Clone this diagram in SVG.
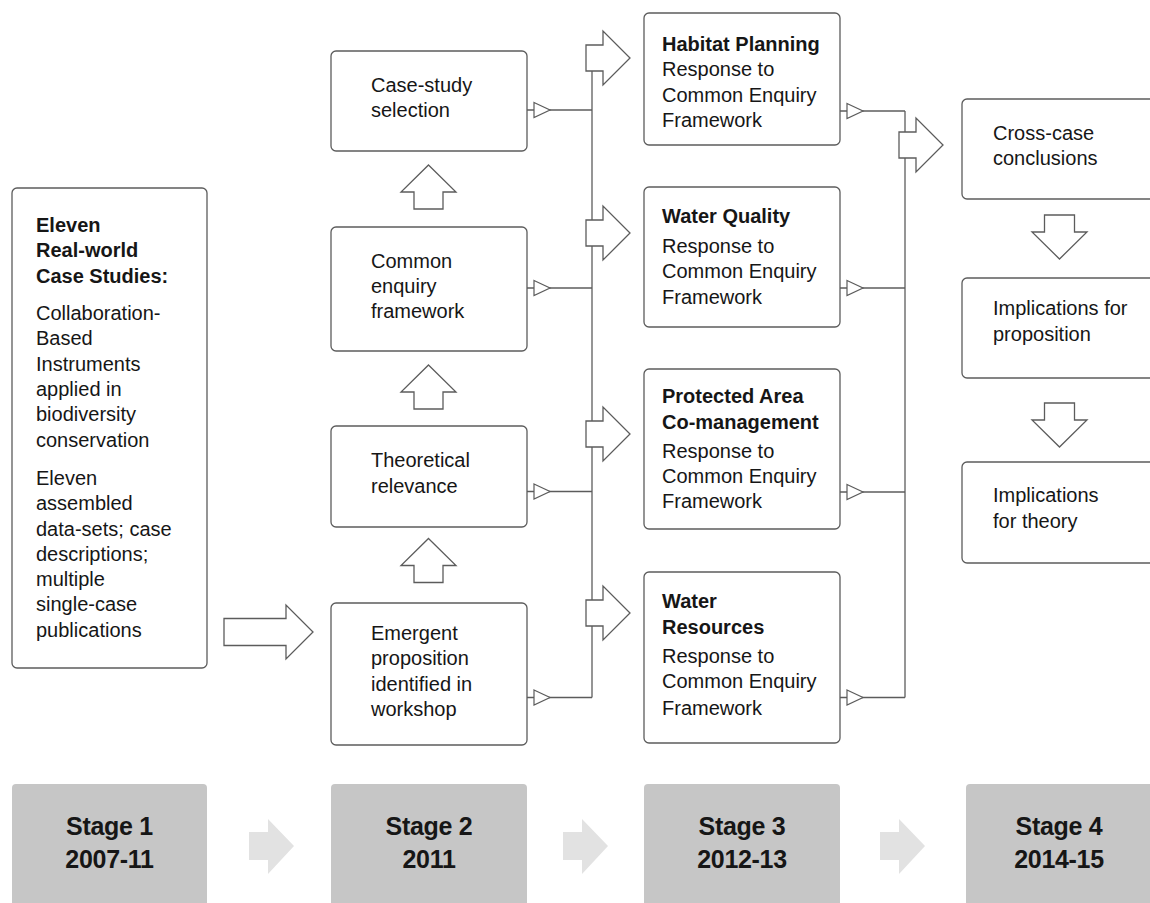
<svg xmlns="http://www.w3.org/2000/svg" xmlns:xlink="http://www.w3.org/1999/xlink" width="1150" height="903" viewBox="0 0 1150 903">
<defs>
<style>
.box{fill:#fff;stroke:#5c5c5c;stroke-width:1.3}
.t{font-family:"Liberation Sans",Arial,sans-serif;font-size:20px;fill:#161616}
.b{font-weight:bold}
.ln{fill:none;stroke:#5c5c5c;stroke-width:1.3}
.blk{fill:#fff;stroke:#5c5c5c;stroke-width:1.3;stroke-linejoin:miter}
.tri{fill:#fff;stroke:#5c5c5c;stroke-width:1.2}
.stage{fill:#c6c6c6}
.st{font-family:"Liberation Sans",Arial,sans-serif;font-size:25px;font-weight:bold;fill:#161616;text-anchor:middle;letter-spacing:-0.3px}
.sarr{fill:#e2e2e2}
</style>
<path id="rarr" d="M0,-13 H17 V-27 L44,0 L17,27 V13 H0 Z"/>
<path id="uarr" d="M0,0 L27.5,27 H14.5 V44 H-14.5 V27 H-27.5 Z"/>
<path id="darr" d="M-15,0 H15 V17 H27.5 L0,44 L-27.5,17 H-15 Z"/>
<path id="tri" d="M0,-7.5 L16,0 L0,7.5 Z"/>
<path id="sarrow" d="M0,-14 H19 V-27 L45,0 L19,28 V14 H0 Z"/>
</defs>

<g id="connectors">
<line class="ln" x1="527" y1="110" x2="592" y2="110"/>
<line class="ln" x1="527" y1="288" x2="592" y2="288"/>
<line class="ln" x1="527" y1="491.5" x2="592" y2="491.5"/>
<line class="ln" x1="527" y1="697.5" x2="592" y2="697.5"/>
<line class="ln" x1="592" y1="58" x2="592" y2="697.5"/>
<use href="#tri" class="tri" x="534" y="110"/>
<use href="#tri" class="tri" x="534" y="288"/>
<use href="#tri" class="tri" x="534" y="491.5"/>
<use href="#tri" class="tri" x="534" y="697.5"/>
<line class="ln" x1="840" y1="111" x2="905" y2="111"/>
<line class="ln" x1="840" y1="288" x2="905" y2="288"/>
<line class="ln" x1="840" y1="492" x2="905" y2="492"/>
<line class="ln" x1="840" y1="697.5" x2="905" y2="697.5"/>
<line class="ln" x1="905" y1="111" x2="905" y2="697.5"/>
<use href="#tri" class="tri" x="847" y="111"/>
<use href="#tri" class="tri" x="847" y="288"/>
<use href="#tri" class="tri" x="847" y="492"/>
<use href="#tri" class="tri" x="847" y="697.5"/>
<use href="#rarr" class="blk" x="586" y="58"/>
<use href="#rarr" class="blk" x="586" y="233"/>
<use href="#rarr" class="blk" x="586" y="434"/>
<use href="#rarr" class="blk" x="586" y="613"/>
<use href="#rarr" class="blk" x="899" y="145"/>
<path class="blk" d="M224,618.5 H286 V605 L313,632 L286,659 V645.5 H224 Z"/>
<use href="#uarr" class="blk" x="428.5" y="165"/>
<use href="#uarr" class="blk" x="428.5" y="365"/>
<use href="#uarr" class="blk" x="428.5" y="538.5"/>
<use href="#darr" class="blk" x="1059.5" y="215"/>
<use href="#darr" class="blk" x="1059.5" y="403"/>
<use href="#sarrow" class="sarr" x="249" y="846"/>
<use href="#sarrow" class="sarr" x="563" y="846"/>
<use href="#sarrow" class="sarr" x="880" y="846"/>
</g>

<g id="case-studies">
<rect class="box" x="12" y="188" width="195" height="480" rx="5"/>
<text class="t b" x="36" y="232">Eleven</text>
<text class="t b" x="36" y="257">Real-world</text>
<text class="t b" x="36" y="283">Case Studies:</text>
<text class="t" x="36" y="320">Collaboration-</text>
<text class="t" x="36" y="345">Based</text>
<text class="t" x="36" y="371">Instruments</text>
<text class="t" x="36" y="396">applied in</text>
<text class="t" x="36" y="421">biodiversity</text>
<text class="t" x="36" y="447">conservation</text>
<text class="t" x="36" y="485">Eleven</text>
<text class="t" x="36" y="510">assembled</text>
<text class="t" x="36" y="536">data-sets; case</text>
<text class="t" x="36" y="561">descriptions;</text>
<text class="t" x="36" y="586">multiple</text>
<text class="t" x="36" y="611">single-case</text>
<text class="t" x="36" y="637">publications</text>
</g>

<g id="case-study-selection">
<rect class="box" x="331" y="51" width="196" height="100" rx="5"/>
<text class="t" x="371" y="92">Case-study</text>
<text class="t" x="371" y="117">selection</text>
</g>
<g id="common-enquiry-framework">
<rect class="box" x="331" y="227" width="196" height="124" rx="5"/>
<text class="t" x="371" y="268">Common</text>
<text class="t" x="371" y="293">enquiry</text>
<text class="t" x="371" y="318">framework</text>
</g>
<g id="theoretical-relevance">
<rect class="box" x="331" y="426" width="196" height="101" rx="5"/>
<text class="t" x="371" y="467">Theoretical</text>
<text class="t" x="371" y="493">relevance</text>
</g>
<g id="emergent-proposition">
<rect class="box" x="331" y="603" width="196" height="142" rx="5"/>
<text class="t" x="371" y="640">Emergent</text>
<text class="t" x="371" y="665">proposition</text>
<text class="t" x="371" y="691">identified in</text>
<text class="t" x="371" y="716">workshop</text>
</g>

<g id="habitat-planning">
<rect class="box" x="644" y="13" width="196" height="132" rx="5"/>
<text class="t b" x="662" y="51">Habitat Planning</text>
<text class="t" x="662" y="76">Response to</text>
<text class="t" x="662" y="102">Common Enquiry</text>
<text class="t" x="662" y="127">Framework</text>
</g>
<g id="water-quality">
<rect class="box" x="644" y="187" width="196" height="140" rx="5"/>
<text class="t b" x="662" y="223">Water Quality</text>
<text class="t" x="662" y="253">Response to</text>
<text class="t" x="662" y="278">Common Enquiry</text>
<text class="t" x="662" y="304">Framework</text>
</g>
<g id="protected-area">
<rect class="box" x="644" y="369" width="196" height="160" rx="5"/>
<text class="t b" x="662" y="403">Protected Area</text>
<text class="t b" x="662" y="429">Co-management</text>
<text class="t" x="662" y="458">Response to</text>
<text class="t" x="662" y="483">Common Enquiry</text>
<text class="t" x="662" y="508">Framework</text>
</g>
<g id="water-resources">
<rect class="box" x="644" y="572" width="196" height="171" rx="5"/>
<text class="t b" x="662" y="608">Water</text>
<text class="t b" x="662" y="634">Resources</text>
<text class="t" x="662" y="663">Response to</text>
<text class="t" x="662" y="688">Common Enquiry</text>
<text class="t" x="662" y="715">Framework</text>
</g>

<g id="cross-case">
<rect class="box" x="962" y="99" width="220" height="100" rx="5"/>
<text class="t" x="993" y="140">Cross-case</text>
<text class="t" x="993" y="165">conclusions</text>
</g>
<g id="implications-proposition">
<rect class="box" x="962" y="278" width="220" height="100" rx="5"/>
<text class="t" x="993" y="315">Implications for</text>
<text class="t" x="993" y="341">proposition</text>
</g>
<g id="implications-theory">
<rect class="box" x="962" y="462" width="220" height="101" rx="5"/>
<text class="t" x="993" y="502">Implications</text>
<text class="t" x="993" y="528">for theory</text>
</g>

<g id="stage1">
<rect class="stage" x="12" y="784" width="195" height="130" rx="4"/>
<text class="st" x="109.5" y="835">Stage 1</text>
<text class="st" x="109.5" y="868">2007-11</text>
</g>
<g id="stage2">
<rect class="stage" x="331" y="784" width="196" height="130" rx="4"/>
<text class="st" x="429" y="835">Stage 2</text>
<text class="st" x="429" y="868">2011</text>
</g>
<g id="stage3">
<rect class="stage" x="644" y="784" width="196" height="130" rx="4"/>
<text class="st" x="742" y="835">Stage 3</text>
<text class="st" x="742" y="868">2012-13</text>
</g>
<g id="stage4">
<rect class="stage" x="966" y="784" width="210" height="130" rx="4"/>
<text class="st" x="1059" y="835">Stage 4</text>
<text class="st" x="1059" y="868">2014-15</text>
</g>
</svg>
